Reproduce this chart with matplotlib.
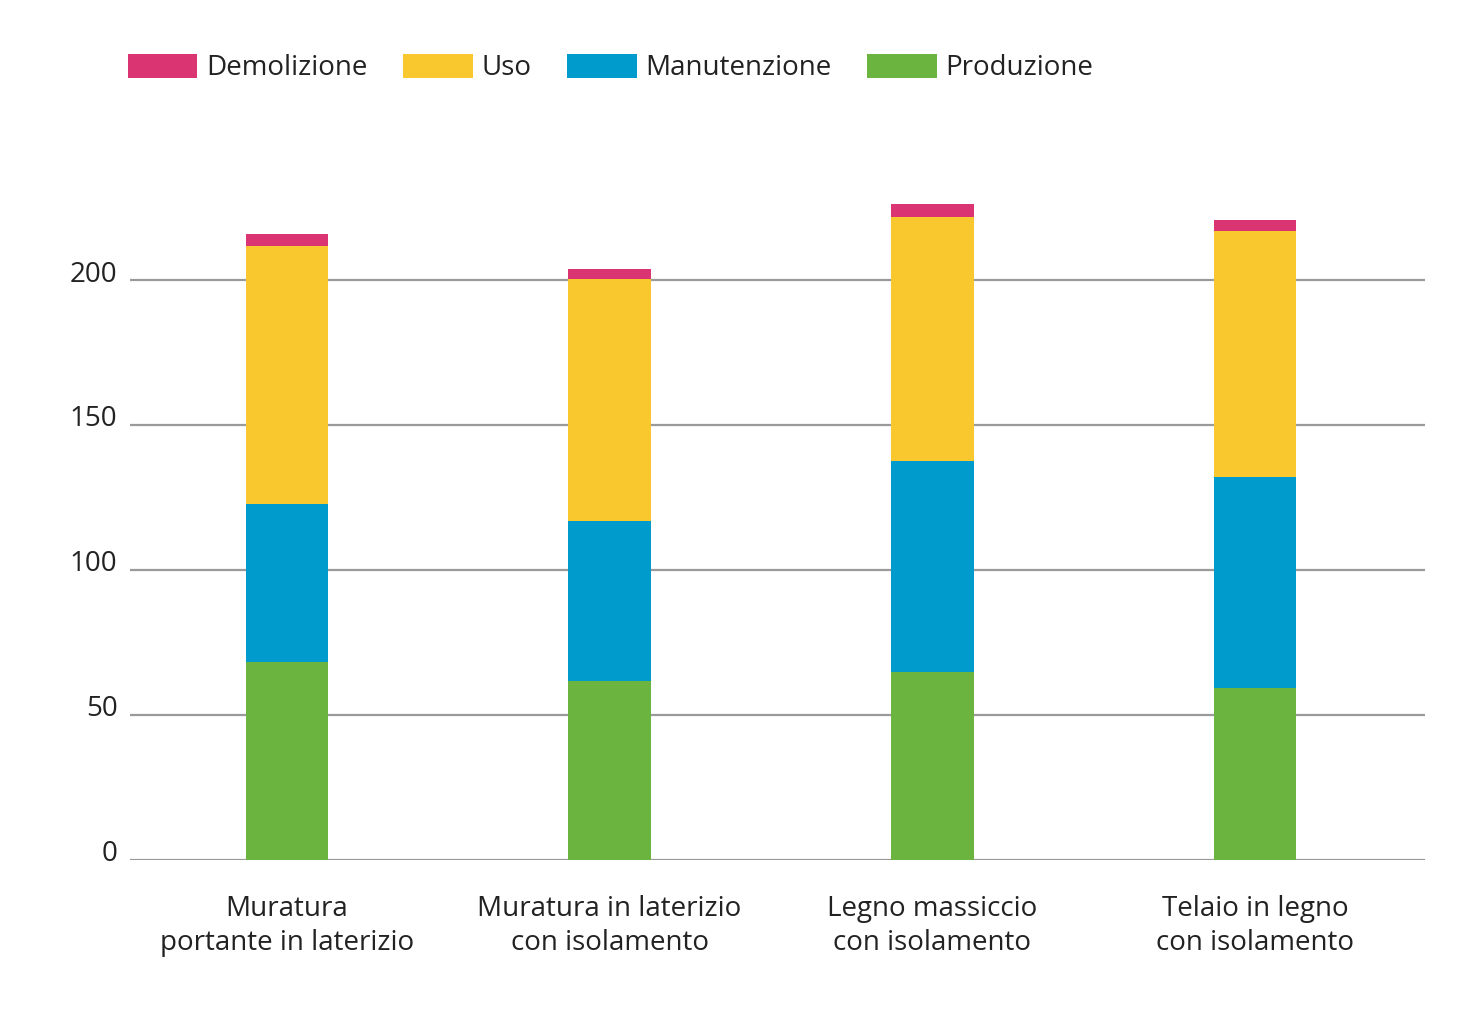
"""Stacked bars: life-cycle energy by wall construction type."""

import matplotlib.pyplot as plt
import matplotlib.transforms as mtransforms
import numpy as np

CATEGORIES = [
    "Muratura\nportante in laterizio",
    "Muratura in laterizio\ncon isolamento",
    "Legno massiccio\ncon isolamento",
    "Telaio in legno\ncon isolamento",
]
PRODUZIONE = [68.3, 61.7, 64.7, 59.4]
MANUTENZIONE = [54.5, 55.2, 72.9, 72.6]
USO = [88.9, 83.3, 84.2, 84.8]
DEMOLIZIONE = [4.1, 3.7, 4.4, 3.9]
Y_TICKS = [0, 50, 100, 150, 200]

SERIES = [
    ("Produzione", PRODUZIONE, "#6cb440"),
    ("Manutenzione", MANUTENZIONE, "#009bcd"),
    ("Uso", USO, "#f8c82e"),
    ("Demolizione", DEMOLIZIONE, "#da3472"),
]
TEXT_COLOR = "#222222"
FONT_SIZE = 20

plt.rcParams["font.family"] = ["Open Sans", "DejaVu Sans"]

fig = plt.figure(figsize=(14.72, 10.36), dpi=100)
ax = fig.add_axes([0.0883, 0.1699, 0.8797, 0.6438])

positions = np.arange(len(CATEGORIES))
bottom = np.zeros(len(CATEGORIES))
handles = {}
for name, values, color in SERIES:
    bars = ax.bar(positions, values, 0.256, bottom=bottom, color=color,
                  linewidth=0, label=name)
    handles[name] = bars
    bottom += np.asarray(values)

ax.set_xlim(-0.4865, 3.527)
ax.set_ylim(0, 230)
ax.set_yticks(Y_TICKS)
ax.set_xticks(positions)
ax.set_xticklabels(CATEGORIES, fontsize=FONT_SIZE, color=TEXT_COLOR,
                   linespacing=1.3)
ax.tick_params(axis="x", length=0, pad=25)
ax.tick_params(axis="y", length=0, pad=9, labelsize=FONT_SIZE,
               labelcolor=TEXT_COLOR)

# y labels sit a little above their gridline in the original
offset = mtransforms.ScaledTranslation(0, 9 / 100, fig.dpi_scale_trans)
for label in ax.get_yticklabels():
    label.set_transform(label.get_transform() + offset)

ax.set_axisbelow(True)
ax.grid(axis="y", color="#9a9a9a", linewidth=1.6)
for spine in ax.spines.values():
    spine.set_visible(False)

legend_order = ["Demolizione", "Uso", "Manutenzione", "Produzione"]
fig.legend(
    [handles[name] for name in legend_order],
    legend_order,
    loc="center left",
    bbox_to_anchor=(128 / 1472, 1 - 68 / 1036),
    ncol=4,
    frameon=False,
    fontsize=FONT_SIZE,
    labelcolor=TEXT_COLOR,
    handlelength=2.5,
    handleheight=0.95,
    handletextpad=0.3,
    columnspacing=1.3,
    borderpad=0,
    borderaxespad=0,
)

fig.savefig("out.png", dpi=100, facecolor="white")
